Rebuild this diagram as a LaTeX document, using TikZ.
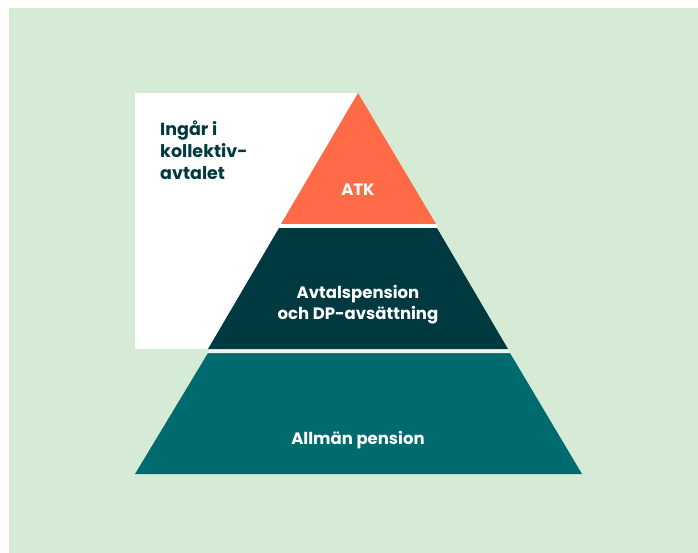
\documentclass[tikz,border=0pt]{standalone}
\usepackage{fontspec}
\setmainfont{Poppins}
\definecolor{bggreen}{HTML}{D6EBD6}
\definecolor{atkorange}{HTML}{FF6B47}
\definecolor{darkteal}{HTML}{003A40}
\definecolor{midteal}{HTML}{006B6E}
\tikzset{
  lbl/.style={font=\fontsize{16.5}{21}\selectfont\bfseries, text=white, align=center, inner sep=0pt},
  sidelbl/.style={font=\fontsize{17.5}{22}\selectfont\bfseries, text=darkteal, align=left, inner sep=0pt, anchor=north west}
}
\begin{document}
\begin{tikzpicture}[x=1pt,y=-1pt]
\useasboundingbox (0,0) rectangle (698,553);
\fill[bggreen] (9,8) rectangle (698,553);
\fill[white] (135,93) rectangle (358,349);
% pyramid layers
\fill[midteal] (208,353) -- (510,353) -- (582,474) -- (135,474) -- cycle;
\fill[white!55!bggreen] (210,349) -- (508,349) -- (510,353) -- (208,353) -- cycle;
\fill[darkteal] (279,228) -- (437,228) -- (508,349) -- (208,349) -- cycle;
\fill[white] (281,224) -- (436,224) -- (438,228) -- (279,228) -- cycle;
\fill[atkorange] (358,93) -- (436,224) -- (281,224) -- cycle;
\node[lbl] (atk) at (358,190) {ATK};
\node[lbl] (avtal) at (358,305) {Avtalspension\\och DP-avsättning};
\node[lbl] (allman) at (358,440) {Allmän pension};
\node[sidelbl] (ingar) at (160,121) {Ingår i\\kollektiv-\\avtalet};
\end{tikzpicture}
\end{document}
